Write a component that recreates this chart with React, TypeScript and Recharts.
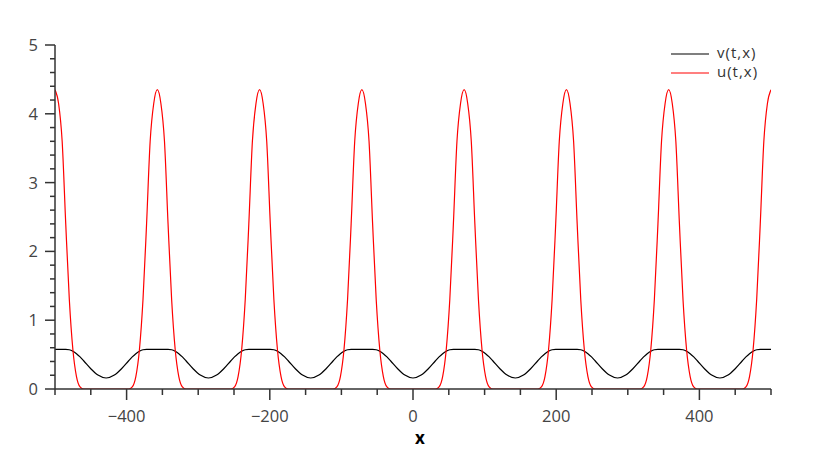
import React from 'react';
import { LineChart, Line, XAxis, YAxis } from 'recharts';

// x positions (samples along the axis)
const xValues = [
  -500, -495, -490, -485, -480, -475, -470, -465, -460, -450, -440, -428.6, -417.1, -407.1, -397.1, -392.1, -387.1, -382.1, -377.1, -372.1, -367.1, -362.1,
  -357.1, -352.1, -347.1, -342.1, -337.1, -332.1, -327.1, -322.1, -317.1, -307.1, -297.1, -285.7, -274.3, -264.3, -254.3, -249.3, -244.3, -239.3, -234.3, -229.3, -224.3, -219.3,
  -214.3, -209.3, -204.3, -199.3, -194.3, -189.3, -184.3, -179.3, -174.3, -164.3, -154.3, -142.9, -131.4, -121.4, -111.4, -106.4, -101.4, -96.4, -91.4, -86.4, -81.4, -76.4,
  -71.4, -66.4, -61.4, -56.4, -51.4, -46.4, -41.4, -36.4, -31.4, -21.4, -11.4, 0, 11.4, 21.4, 31.4, 36.4, 41.4, 46.4, 51.4, 56.4, 61.4, 66.4,
  71.4, 76.4, 81.4, 86.4, 91.4, 96.4, 101.4, 106.4, 111.4, 121.4, 131.4, 142.9, 154.3, 164.3, 174.3, 179.3, 184.3, 189.3, 194.3, 199.3, 204.3, 209.3,
  214.3, 219.3, 224.3, 229.3, 234.3, 239.3, 244.3, 249.3, 254.3, 264.3, 274.3, 285.7, 297.1, 307.1, 317.1, 322.1, 327.1, 332.1, 337.1, 342.1, 347.1, 352.1,
  357.1, 362.1, 367.1, 372.1, 377.1, 382.1, 387.1, 392.1, 397.1, 407.1, 417.1, 428.6, 440, 450, 460, 465, 470, 475, 480, 485, 490, 495,
  500,
];

// u(t,x) — red series
const uValues = [
  4.35, 4.15, 3.6, 2.4, 1.3, 0.57, 0.18, 0.03, 0, 0, 0, 0, 0, 0, 0, 0.03, 0.18, 0.57, 1.3, 2.4, 3.6, 4.15,
  4.35, 4.15, 3.6, 2.4, 1.3, 0.57, 0.18, 0.03, 0, 0, 0, 0, 0, 0, 0, 0.03, 0.18, 0.57, 1.3, 2.4, 3.6, 4.15,
  4.35, 4.15, 3.6, 2.4, 1.3, 0.57, 0.18, 0.03, 0, 0, 0, 0, 0, 0, 0, 0.03, 0.18, 0.57, 1.3, 2.4, 3.6, 4.15,
  4.35, 4.15, 3.6, 2.4, 1.3, 0.57, 0.18, 0.03, 0, 0, 0, 0, 0, 0, 0, 0.03, 0.18, 0.57, 1.3, 2.4, 3.6, 4.15,
  4.35, 4.15, 3.6, 2.4, 1.3, 0.57, 0.18, 0.03, 0, 0, 0, 0, 0, 0, 0, 0.03, 0.18, 0.57, 1.3, 2.4, 3.6, 4.15,
  4.35, 4.15, 3.6, 2.4, 1.3, 0.57, 0.18, 0.03, 0, 0, 0, 0, 0, 0, 0, 0.03, 0.18, 0.57, 1.3, 2.4, 3.6, 4.15,
  4.35, 4.15, 3.6, 2.4, 1.3, 0.57, 0.18, 0.03, 0, 0, 0, 0, 0, 0, 0, 0.03, 0.18, 0.57, 1.3, 2.4, 3.6, 4.15,
  4.35,
];

// v(t,x) — black series
const vValues = [
  0.575, 0.575, 0.575, 0.575, 0.57, 0.549, 0.513, 0.466, 0.411, 0.295, 0.202, 0.16, 0.202, 0.295, 0.411, 0.466, 0.513, 0.549, 0.57, 0.575, 0.575, 0.575,
  0.575, 0.575, 0.575, 0.575, 0.57, 0.549, 0.513, 0.466, 0.411, 0.295, 0.202, 0.16, 0.202, 0.295, 0.411, 0.466, 0.513, 0.549, 0.57, 0.575, 0.575, 0.575,
  0.575, 0.575, 0.575, 0.575, 0.57, 0.549, 0.513, 0.466, 0.411, 0.295, 0.202, 0.16, 0.202, 0.295, 0.411, 0.466, 0.513, 0.549, 0.57, 0.575, 0.575, 0.575,
  0.575, 0.575, 0.575, 0.575, 0.57, 0.549, 0.513, 0.466, 0.411, 0.295, 0.202, 0.16, 0.202, 0.295, 0.411, 0.466, 0.513, 0.549, 0.57, 0.575, 0.575, 0.575,
  0.575, 0.575, 0.575, 0.575, 0.57, 0.549, 0.513, 0.466, 0.411, 0.295, 0.202, 0.16, 0.202, 0.295, 0.411, 0.466, 0.513, 0.549, 0.57, 0.575, 0.575, 0.575,
  0.575, 0.575, 0.575, 0.575, 0.57, 0.549, 0.513, 0.466, 0.411, 0.295, 0.202, 0.16, 0.202, 0.295, 0.411, 0.466, 0.513, 0.549, 0.57, 0.575, 0.575, 0.575,
  0.575, 0.575, 0.575, 0.575, 0.57, 0.549, 0.513, 0.466, 0.411, 0.295, 0.202, 0.16, 0.202, 0.295, 0.411, 0.466, 0.513, 0.549, 0.57, 0.575, 0.575, 0.575,
  0.575,
];

const xTicks = [-500, -450, -400, -350, -300, -250, -200, -150, -100, -50, 0, 50, 100, 150, 200, 250, 300, 350, 400, 450, 500];
const xLabeledTicks = [-400, -200, 0, 200, 400];
const yTicks = [0, 0.2, 0.4, 0.6, 0.8, 1, 1.2, 1.4, 1.6, 1.8, 2, 2.2, 2.4, 2.6, 2.8, 3, 3.2, 3.4, 3.6, 3.8, 4, 4.2, 4.4, 4.6, 4.8, 5];
const yLabeledTicks = [0, 1, 2, 3, 4, 5];

const seriesNames = { v: 'v(t,x)', u: 'u(t,x)' };
const seriesColors = { v: '#000000', u: '#ff0000' };

const data = xValues.map((x, i) => ({ x, u: uValues[i], v: vValues[i] }));

const FONT = '"Open Sans", sans-serif';
const AXIS_COLOR = '#333333';
const LABEL_COLOR = '#444444';

const fmt = (n: number) => (n < 0 ? `\u2212${-n}` : `${n}`);

const XTick = (props: any) => {
  const { x, y, payload } = props;
  const v = payload.value;
  const major = xLabeledTicks.includes(v);
  return (
    <g>
      <line x1={x} x2={x} y1={y} y2={y + (major ? 11 : 6)} stroke={AXIS_COLOR} strokeWidth={1.5} />
      {major && (
        <text x={x} y={y + 33} textAnchor="middle" fill={LABEL_COLOR} fontSize={16.5} fontFamily={FONT}>
          {fmt(v)}
        </text>
      )}
    </g>
  );
};

const YTick = (props: any) => {
  const { x, y, payload } = props;
  const v = payload.value;
  const major = yLabeledTicks.some((t) => Math.abs(t - v) < 1e-9);
  return (
    <g>
      <line x1={x - (major ? 10 : 5)} x2={x} y1={y} y2={y} stroke={AXIS_COLOR} strokeWidth={1.5} />
      {major && (
        <text x={x - 17} y={y + 6} textAnchor="end" fill={LABEL_COLOR} fontSize={16.5} fontFamily={FONT}>
          {fmt(v)}
        </text>
      )}
    </g>
  );
};

const XLabel = (props: any) => {
  const vb = props.viewBox;
  return (
    <text
      x={vb.x + vb.width / 2 + 7}
      y={vb.y + vb.height - 14}
      textAnchor="middle"
      fill="#000"
      fontWeight="bold"
      fontSize={17}
      fontFamily={FONT}
    >
      x
    </text>
  );
};

const LegendBox = () => (
  <div
    style={{
      position: 'absolute',
      left: 663,
      top: 35,
      fontFamily: FONT,
      fontSize: 15,
      letterSpacing: '1px',
      color: '#333',
      lineHeight: '19px',
    }}
  >
    {(['v', 'u'] as const).map((k) => (
      <div key={k} style={{ display: 'flex', alignItems: 'center', height: 19 }}>
        <svg width={38} height={4} style={{ marginRight: 8, marginTop: 3 }}>
          <line x1={0} x2={38} y1={2} y2={2} stroke={seriesColors[k]} strokeWidth={1.2} />
        </svg>
        <span>{seriesNames[k]}</span>
      </div>
    ))}
  </div>
);

export default function App() {
  return (
    <div style={{ position: 'relative', width: 822, height: 450, background: '#fff' }}>
      <LineChart width={822} height={450} data={data} margin={{ top: 37, right: 59, bottom: 0, left: 7 }}>
        <XAxis
          type="number"
          dataKey="x"
          domain={[-500, 500]}
          ticks={xTicks}
          interval={0}
          allowDataOverflow
          height={69}
          tickSize={0}
          tickMargin={0}
          tickLine={false}
          axisLine={{ stroke: AXIS_COLOR, strokeWidth: 1.5 }}
          tick={<XTick />}
          label={<XLabel />}
        />
        <YAxis
          type="number"
          domain={[0, 5]}
          ticks={yTicks}
          interval={0}
          allowDataOverflow
          width={40}
          tickSize={0}
          tickMargin={0}
          tickLine={false}
          axisLine={{ stroke: AXIS_COLOR, strokeWidth: 1.5 }}
          tick={<YTick />}
        />
        <Line
          type="monotone"
          dataKey="v"
          stroke={seriesColors.v}
          strokeWidth={1.2}
          dot={false}
          isAnimationActive={false}
        />
        <Line
          type="monotone"
          dataKey="u"
          stroke={seriesColors.u}
          strokeWidth={1.2}
          dot={false}
          isAnimationActive={false}
        />
      </LineChart>
      <LegendBox />
    </div>
  );
}
